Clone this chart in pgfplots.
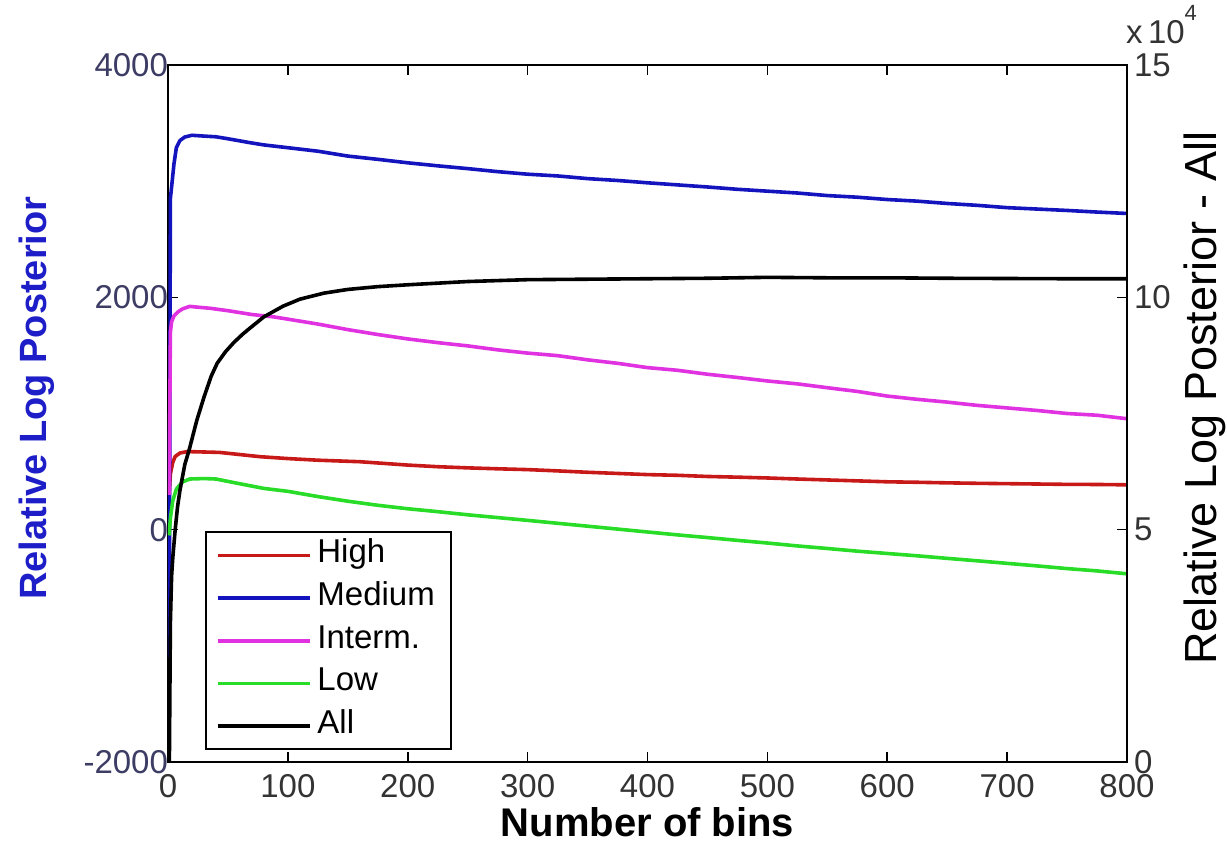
\documentclass[border=0pt]{standalone}
\usepackage{fontspec}
\setmainfont{Liberation Sans}
\usepackage{pgfplots}
\usepackage{pgfplotstable}
\pgfplotsset{compat=1.18}
\definecolor{mblue}{RGB}{20,20,190}
\definecolor{mred}{RGB}{200,25,25}
\definecolor{mmag}{RGB}{225,50,225}
\definecolor{mgreen}{RGB}{40,220,40}
\definecolor{lbl}{RGB}{60,60,100}
\definecolor{ylblue}{RGB}{30,30,200}

\pgfplotstableread{
x y
1 -1100
2 2850
3 2950
5 3150
7 3290
10 3350
14 3380
20 3395
30 3388
40 3382
50 3365
68 3332
80 3312
100 3288
125 3258
150 3216
175 3188
200 3158
225 3132
250 3108
275 3082
300 3060
325 3045
350 3022
375 3006
400 2986
425 2968
450 2950
475 2930
500 2914
525 2898
550 2876
575 2862
600 2842
625 2828
650 2808
675 2792
700 2772
725 2760
750 2748
775 2734
800 2722
}\medium

\pgfplotstableread{
x y
1 300
2 1700
3 1790
5 1840
8 1872
12 1900
18 1922
25 1915
35 1906
50 1885
70 1852
88 1832
100 1812
125 1770
150 1722
175 1680
200 1642
225 1610
250 1582
275 1548
300 1520
325 1498
350 1462
375 1432
400 1395
425 1372
450 1338
475 1310
500 1280
525 1255
550 1222
575 1190
600 1150
625 1122
650 1098
675 1070
700 1048
725 1026
750 1000
775 985
800 955
}\interm

\pgfplotstableread{
x y
1 300
2 480
4 580
6 630
10 660
16 672
25 670
43 665
77 628
100 612
125 598
160 585
200 556
225 542
250 532
275 524
300 517
325 506
350 494
375 484
400 474
425 468
450 458
475 452
500 445
525 436
550 428
575 420
600 412
625 408
650 403
675 399
700 396
725 393
750 390
775 389
800 386
}\high

\pgfplotstableread{
x y
1 -50
2 100
4 250
7 350
12 410
18 436
30 440
40 436
60 395
80 355
100 330
125 285
150 245
175 210
200 180
225 155
250 128
275 104
300 80
325 55
350 30
375 5
400 -20
425 -45
450 -68
475 -92
500 -115
525 -140
550 -162
575 -185
600 -205
625 -225
650 -247
675 -268
700 -290
725 -312
750 -335
775 -355
800 -380
}\low

\pgfplotstableread{
x y
1 -5000
2 30000
3 40000
4 44000
6 50000
8 55000
10 58500
14 64000
18 67500
24 73500
30 78500
36 83000
41 85800
48 88300
55 90300
62 92000
68 93300
80 95800
96 98100
110 99600
130 100900
150 101700
175 102300
200 102700
250 103400
300 103800
350 103900
400 104000
450 104100
500 104300
550 104200
600 104200
650 104100
700 104050
750 104000
800 104000
}\allser

\begin{document}
\begin{tikzpicture}
\path[use as bounding box] (-84pt,-42pt) rectangle (529.5pt,381pt);
\pgfplotsset{
  common/.style={width=479.5pt,height=348.5pt,scale only axis,
    xmin=0,xmax=800,
    tick align=inside, major tick length=5pt,
    axis line style={line width=1pt},
    tick style={line width=0.8pt, black},
    /pgf/number format/assume math mode=true,
    /pgf/number format/1000 sep={},
    tick label style={font=\fontsize{16.5}{19}\selectfont},
    every axis plot/.append style={line width=1.8pt, mark=none, line join=round},
  }
}
\begin{axis}[common,
  ymin=-2000, ymax=4000, ytick={-2000,0,2000,4000},
  xtick={0,100,...,800}, xtick pos=both, ytick pos=left,
  scaled y ticks=false,
  yticklabel style={text=lbl, xshift=3.5pt},
  xticklabel style={text=black!80, yshift=-2.5pt},
  xlabel={Number of bins},
  ylabel={Relative Log Posterior},
  xlabel style={at={(axis description cs:0.5,-0.086)}, anchor=center, font=\fontsize{20}{23}\selectfont\bfseries},
  ylabel style={at={(axis description cs:-0.1366,0.522)}, anchor=center, text=ylblue, font=\fontsize{19}{22}\selectfont\bfseries},
]
\addplot[mred] table[x=x,y=y] {\high};
\addplot[mblue] table[x=x,y=y] {\medium};
\addplot[mmag] table[x=x,y=y] {\interm};
\addplot[mgreen] table[x=x,y=y] {\low};
\end{axis}
\begin{axis}[common,
  clip mode=individual,
  axis x line=none, axis y line*=right, ytick pos=right,
  ymin=0, ymax=150000, ytick={0,50000,100000,150000},
  yticklabels={0,5,10,15},
  scaled y ticks=false,
  yticklabel style={text=black!80},
  ylabel={Relative Log Posterior - All},
  ylabel style={at={(axis description cs:1.0813,0.522)}, anchor=center, font=\fontsize{22.5}{25}\selectfont},
  legend style={at={(rel axis cs:0.0386,0.0172)}, anchor=south west,
    draw=black, line width=0.8pt, inner xsep=5pt, inner ysep=1pt,
    row sep=0pt, font=\fontsize{16.5}{19}\selectfont,
    nodes={text height=11.3pt, text depth=4pt, inner sep=3pt}},
  legend cell align=left,
  legend image code/.code={\draw[#1] (0pt,0pt) -- (46pt,0pt);},
]
\addlegendimage{mred, line width=1.8pt}
\addlegendentry{High}
\addlegendimage{mblue, line width=1.8pt}
\addlegendentry{Medium}
\addlegendimage{mmag, line width=1.8pt}
\addlegendentry{Interm.}
\addlegendimage{mgreen, line width=1.8pt}
\addlegendentry{Low}
\addplot[black] table[x=x,y=y] {\allser};
\addlegendentry{All}
\node[anchor=center, inner sep=0pt, font=\fontsize{16.5}{19}\selectfont, text=black!80]
  at (axis description cs:1.036,1.058) {x\,10\raisebox{1.35ex}{\fontsize{11}{12}\selectfont 4}};
\end{axis}
\end{tikzpicture}
\end{document}
